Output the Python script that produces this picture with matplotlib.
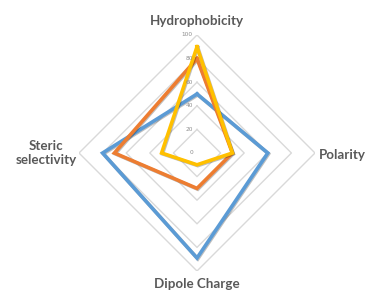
import numpy as np
import matplotlib
matplotlib.use("Agg")
import matplotlib.pyplot as plt
import matplotlib.patheffects as pe

categories = ["Hydrophobicity", "Polarity", "Dipole Charge", "Steric\nselectivity"]
series_a = [50, 60, 89, 80]   # blue
series_b = [80, 30, 30, 70]   # orange
series_c = [90, 30, 10, 30]   # yellow
ticks = [0, 20, 40, 60, 80, 100]

W, H = 365, 291
fig = plt.figure(figsize=(W / 100, H / 100), dpi=100)
cx, cy, R = 197, 153, 118
ax = fig.add_axes([(cx - R) / W, (H - cy - R) / H, 2 * R / W, 2 * R / H], projection="polar")
ax.set_theta_zero_location("N")
ax.set_theta_direction(-1)
ax.set_ylim(0, 100)
ax.set_xticks([])
ax.set_yticks([])
ax.grid(False)
ax.spines["polar"].set_visible(False)
ax.patch.set_alpha(0)

n = len(categories)
theta = np.linspace(0, 2 * np.pi, n, endpoint=False)
theta_c = np.append(theta, theta[0])

for t in ticks[1:]:
    ax.plot(theta_c, [t] * (n + 1), color="#d9d9d9", lw=1.0, zorder=1)

colors = ["#5b9bd5", "#ed7d31", "#ffc000"]
for vals, c in zip([series_a, series_b, series_c], colors):
    v = np.append(vals, vals[0])
    ax.plot(theta_c, v, color=c, lw=2.6, zorder=3, solid_joinstyle="miter",
            path_effects=[pe.SimpleLineShadow(offset=(0.6, -0.6), alpha=0.25), pe.Normal()])

for t in ticks:
    ax.text(0, t, str(t), ha="right", va="center", fontsize=4.2, color="#8c8c8c",
            transform=ax.transData + matplotlib.transforms.ScaledTranslation(-4 / 100, 0, fig.dpi_scale_trans))

lab = dict(fontsize=9.6, fontweight="bold", color="#595959", family="Lato")
fig.text(197 / W, 1 - 21 / H, categories[0], ha="center", va="center", **lab)
fig.text(319 / W, 1 - 155 / H, categories[1], ha="left", va="center", **lab)
fig.text(197 / W, 1 - 284 / H, categories[2], ha="center", va="center", **lab)
fig.text(46 / W, 1 - 153 / H, categories[3], ha="center", va="center", linespacing=1.2, **lab)

fig.savefig("out.png", dpi=100)
